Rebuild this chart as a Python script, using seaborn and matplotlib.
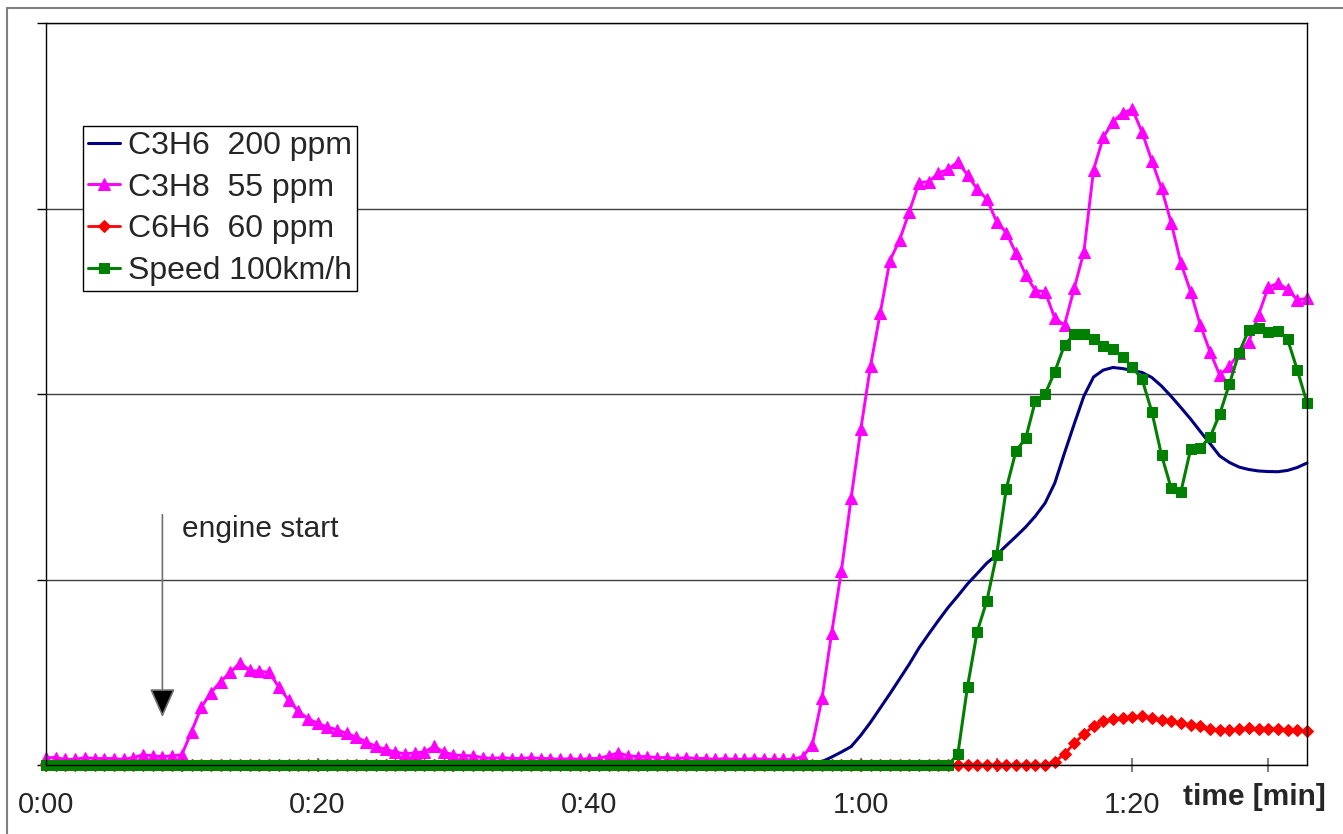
import numpy as np
import pandas as pd
import matplotlib
matplotlib.use("Agg")
import matplotlib.pyplot as plt
from matplotlib.lines import Line2D
import seaborn as sns

# samples (one per ~0.71 s); ticks every 14 samples = 10 s
sample = np.arange(131)
tick_pos = list(range(0, 131, 14))
tick_labels = ["0:00", "", "0:20", "", "0:40", "", "1:00", "", "1:20", ""]

c3h6 = [0.0] * 26 + [0.003, 0.008, 0.012, 0.012, 0.01, 0.006, 0.003] + [0.0] * 45 + [
    0.003, 0.008, 0.018, 0.043, 0.07, 0.099, 0.16, 0.23, 0.307, 0.384,
    0.464, 0.544, 0.631, 0.706, 0.779, 0.849, 0.911, 0.976, 1.032, 1.089,
    1.132, 1.183, 1.232, 1.283, 1.342, 1.412, 1.52, 1.682, 1.838, 1.989,
    2.092, 2.129, 2.143, 2.137, 2.127, 2.116, 2.089, 2.043, 1.987, 1.927,
    1.865, 1.798, 1.733, 1.666, 1.631, 1.606, 1.593, 1.585, 1.582, 1.581,
    1.588, 1.604, 1.628]

c3h8 = [
    0.04, 0.04, 0.03, 0.03, 0.04, 0.035, 0.035, 0.035, 0.03, 0.04,
    0.055, 0.05, 0.045, 0.05, 0.055, 0.18, 0.31, 0.39, 0.45, 0.50,
    0.55, 0.51, 0.505, 0.50, 0.42, 0.35, 0.29, 0.25, 0.225, 0.205,
    0.19, 0.17, 0.15, 0.125, 0.10, 0.085, 0.07, 0.06, 0.065, 0.07,
    0.10, 0.07, 0.055, 0.05, 0.05, 0.04, 0.035, 0.04, 0.035, 0.035,
    0.04, 0.035, 0.035, 0.03, 0.035, 0.03, 0.035, 0.035, 0.05, 0.065,
    0.05, 0.045, 0.045, 0.04, 0.04, 0.035, 0.04, 0.035, 0.035, 0.03,
    0.035, 0.03, 0.03, 0.035, 0.03, 0.03, 0.03, 0.03, 0.045, 0.108,
    0.36, 0.713, 1.047, 1.438, 1.81, 2.151, 2.435, 2.719, 2.83, 2.983,
    3.139, 3.145, 3.19, 3.211, 3.252, 3.181, 3.104, 3.05, 2.929, 2.87,
    2.758, 2.642, 2.557, 2.552, 2.408, 2.372, 2.57, 2.767, 3.21, 3.384,
    3.468, 3.516, 3.535, 3.411, 3.258, 3.109, 2.923, 2.705, 2.552, 2.372,
    2.228, 2.102, 2.151, 2.219, 2.282, 2.426, 2.575, 2.597, 2.564, 2.507, 2.516]

c6h6 = [0.0] * 104 + [
    0.018, 0.059, 0.117, 0.167, 0.21, 0.237, 0.247, 0.253, 0.26, 0.265,
    0.253, 0.244, 0.235, 0.226, 0.217, 0.208, 0.194, 0.187, 0.19, 0.194,
    0.198, 0.196, 0.196, 0.194, 0.19, 0.187, 0.182]

speed = [0.0] * 94 + [
    0.058, 0.422, 0.719, 0.886, 1.132, 1.49, 1.694, 1.761, 1.964, 2.0,
    2.12, 2.264, 2.322, 2.323, 2.295, 2.259, 2.241, 2.201, 2.144, 2.079,
    1.905, 1.671, 1.492, 1.473, 1.702, 1.711, 1.767, 1.891, 2.054, 2.223,
    2.345, 2.354, 2.333, 2.341, 2.295, 2.129, 1.953]

sns.set_style("white")
plt.rcParams["font.family"] = ["Liberation Sans", "DejaVu Sans"]
FS = 21

W, H = 1343, 834
fig = plt.figure(figsize=(W / 100, H / 100), dpi=100)
ax = fig.add_axes([46 / W, 1 - 765 / H, (1307 - 46) / W, (765 - 23) / H])

series = [
    ("C3H6  200 ppm", c3h6, "#000080", None, 0, 2.2),
    ("C3H8  55 ppm", c3h8, "#FF00FF", "^", 8, 2.1),
    ("C6H6  60 ppm", c6h6, "#FF0000", "D", 6, 2.0),
    ("Speed 100km/h", speed, "#008000", "s", 7.5, 2.2),
]
for name, vals, col, mk, ms, lw in series:
    sns.lineplot(x=sample, y=vals, ax=ax, color=col, lw=lw, marker=mk,
                 markersize=ms, markeredgecolor=col, markerfacecolor=col,
                 label=name, estimator=None, clip_on=False)

ax.set_xlim(0, 130)
ax.set_ylim(0, 4)
ax.set_xticks(tick_pos)
ax.set_xticklabels(tick_labels, fontsize=FS)
ax.set_yticks([0, 1, 2, 3, 4])
ax.set_yticklabels([])
ax.set_xlabel("")
ax.set_ylabel("")
ax.yaxis.grid(True, color="#404040", lw=1)
ax.xaxis.grid(False)
ax.tick_params(axis="x", direction="inout", length=10, width=1.5,
               color="#808080", pad=14, bottom=True)
ax.tick_params(axis="y", direction="out", length=6.5, width=1,
               color="black", left=True)
for sp in ax.spines.values():
    sp.set_color("black")
    sp.set_linewidth(1)

# engine start annotation
ax.annotate("", xy=(12, 0.243), xytext=(12, 1.364),
            arrowprops=dict(arrowstyle="-|>,head_length=0.9,head_width=0.4",
                            mutation_scale=20, lw=1.2,
                            edgecolor="#707070", facecolor="black"))
ax.text(14, 1.27, "engine start", fontsize=21.5, ha="left", va="center")

fig.text(1183 / W, 1 - 797 / H, "time [min]", fontsize=21.5, fontweight="bold",
         ha="left", va="center")

leg = ax.legend(loc="upper left", bbox_to_anchor=(83 / W, 1 - 126 / H),
                bbox_transform=fig.transFigure, borderaxespad=0, fontsize=23,
                frameon=True, fancybox=False, edgecolor="black", framealpha=1,
                handlelength=1.0, handletextpad=0.25, borderpad=0.15,
                labelspacing=0.37, numpoints=1)
leg.get_frame().set_linewidth(1)

# outer chart border
fig.add_artist(Line2D([7 / W, 1], [1 - 8 / H, 1 - 8 / H], color="#808080",
                      lw=1.5, transform=fig.transFigure))
fig.add_artist(Line2D([7 / W, 7 / W], [0, 1 - 8 / H], color="#808080",
                      lw=1.5, transform=fig.transFigure))

fig.savefig("out.png", dpi=100)
